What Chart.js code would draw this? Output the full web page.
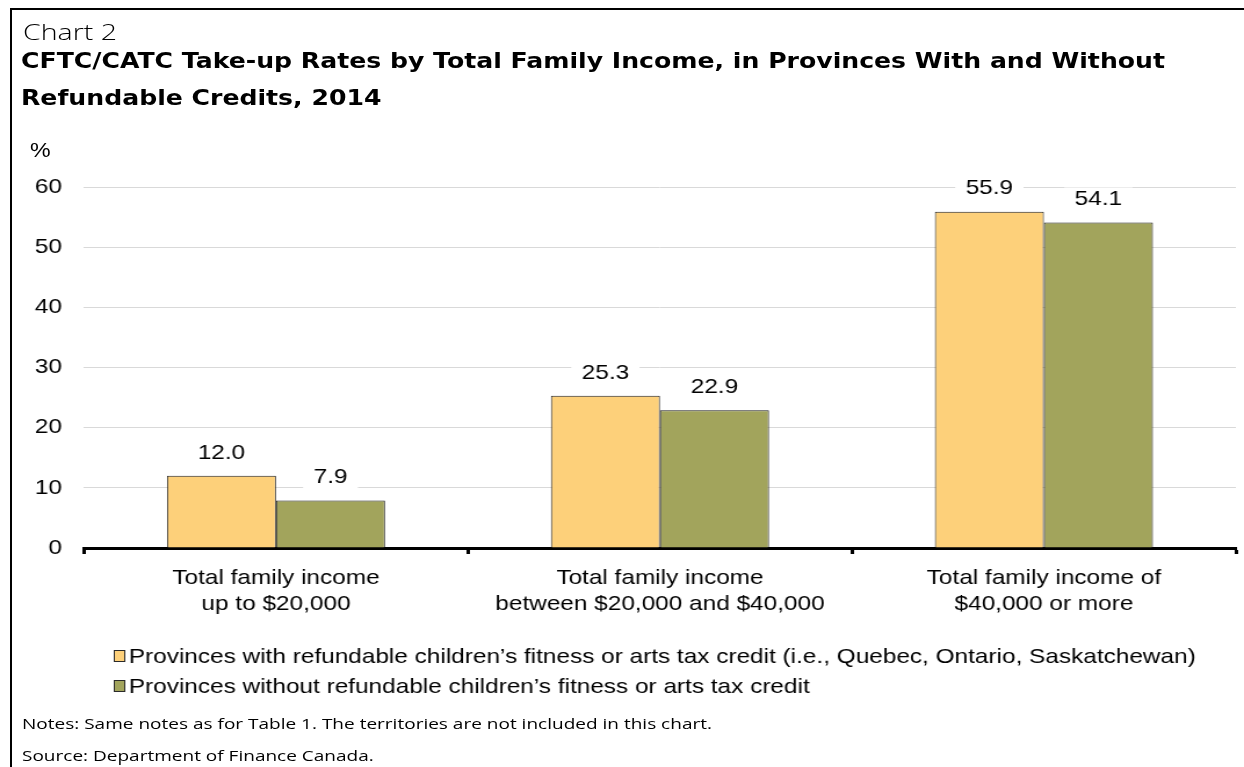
<!DOCTYPE html>
<html>
<head>
<meta charset="utf-8">
<script src="https://cdn.jsdelivr.net/npm/chart.js@4/dist/chart.umd.min.js"></script>
<style>
 body{margin:0;background:#fff;}
 #wrap{position:relative;width:1244px;height:767px;overflow:hidden;background:#fff;}
 #frame{position:absolute;left:10px;top:8px;width:1240px;height:770px;border-top:2px solid #000;border-left:2px solid #000;}
 #chart{position:absolute;left:0;top:0;}
 .t{position:absolute;white-space:nowrap;color:#000;transform-origin:0 0;}
 #num{left:23px;top:16px;font:300 22px "Open Sans",sans-serif;}
 #ttl{left:21px;top:42px;font:bold 22px/37px "DejaVu Sans",sans-serif;}
 #pct{left:30px;top:139px;font:20px "Liberation Sans",Arial,sans-serif;transform:scaleX(1.16);}
 .note{left:22px;font:15px "Open Sans",sans-serif;}
</style>
</head>
<body>
<div id="wrap">
 <div id="frame"></div>
 <canvas id="chart" width="1072" height="767" style="width:1244px;height:767px"></canvas>
 <div class="t" id="num" data-w="94">Chart 2</div>
 <div class="t" id="ttl" data-w="1144">CFTC/CATC Take-up Rates by Total Family Income, in Provinces With and Without<br>Refundable Credits, 2014</div>
 <div class="t" id="pct">%</div>
 <div class="t note" id="notes" data-w="690" style="top:713px">Notes: Same notes as for Table 1. The territories are not included in this chart.</div>
 <div class="t note" id="src" style="top:745px">Source: Department of Finance Canada.</div>
</div>
<script>
// income groups and take-up rates (%)
const categories = [
 ['Total family income','up to $20,000'],
 ['Total family income','between $20,000 and $40,000'],
 ['Total family income of','$40,000 or more']
];
const seriesNames = [
 'Provinces with refundable children\u2019s fitness or arts tax credit (i.e., Quebec, Ontario, Saskatchewan)',
 'Provinces without refundable children\u2019s fitness or arts tax credit'
];
const withRefundable = [12.0, 25.3, 55.9];
const withoutRefundable = [7.9, 22.9, 54.1];
const yTicks = [0, 10, 20, 30, 40, 50, 60];

const FONT = '"Liberation Sans", Arial, sans-serif';

// headings use wide type: squeeze/stretch each block to its set width
function fitText(){
 document.querySelectorAll('[data-w]').forEach(el=>{
  el.style.transform = 'none';
  const w = el.getBoundingClientRect().width;
  const k = (+el.dataset.w) / w;
  el.style.transform = 'scaleX(' + k + ')';
  if(el.id === 'notes') document.getElementById('src').style.transform = 'scaleX(' + k + ')';
 });
}
fitText();
if(document.fonts) document.fonts.ready.then(fitText);

// value labels sitting on a white patch above each bar
const valueLabels = {
 id:'valueLabels',
 afterDatasetsDraw(chart){
  const ctx = chart.ctx;
  ctx.save();
  ctx.font = '21px ' + FONT;
  ctx.textAlign = 'center'; ctx.textBaseline = 'middle';
  chart.data.datasets.forEach((ds,i)=>{
   chart.getDatasetMeta(i).data.forEach((bar,j)=>{
    const txt = ds.data[j].toFixed(1);
    const w = ctx.measureText(txt).width;
    const cy = bar.y - 23;
    ctx.fillStyle = '#fff';
    ctx.fillRect(bar.x - w/2 - 9, cy - 12, w + 18, 24);
    ctx.fillStyle = '#000';
    ctx.fillText(txt, bar.x, cy);
   });
  });
  ctx.restore();
 }
};

// stacked legend, one series per row
const rowLegend = {
 id:'rowLegend',
 afterDraw(chart){
  const ctx = chart.ctx;
  ctx.save();
  ctx.font = '21px ' + FONT;
  ctx.textBaseline = 'middle';
  chart.data.datasets.forEach((ds,i)=>{
   const y = 656 + i*30;
   ctx.fillStyle = ds.backgroundColor;
   ctx.fillRect(98, y-6, 10, 12);
   ctx.strokeStyle = '#2a2a2a'; ctx.lineWidth = 1;
   ctx.strokeRect(98.5, y-5.5, 9, 11);
   ctx.fillStyle = '#000';
   ctx.fillText(ds.label, 111, y+1);
  });
  ctx.restore();
 }
};

new Chart(document.getElementById('chart'), {
 type:'bar',
 data:{
  labels:categories,
  datasets:[
   {label:seriesNames[0], data:withRefundable, backgroundColor:'#FDD07A', borderColor:'#1e1e1e', borderWidth:1},
   {label:seriesNames[1], data:withoutRefundable, backgroundColor:'#A2A45C', borderColor:'#1e1e1e', borderWidth:1}
  ]
 },
 options:{
  responsive:false, animation:false, devicePixelRatio:1,
  layout:{padding:{left:0, right:7, top:187, bottom:119}},
  datasets:{bar:{categoryPercentage:0.568, barPercentage:1}},
  plugins:{legend:{display:false}, tooltip:{enabled:false}},
  scales:{
   x:{
    afterFit:s=>{ s.height = 100; },
    border:{display:true, color:'#000', width:3},
    grid:{offset:true, drawOnChartArea:false, drawTicks:true, tickLength:6, color:'#000', tickWidth:3},
    ticks:{color:'#000', font:{family:FONT, size:21, lineHeight:1.25}, padding:11, maxRotation:0, autoSkip:false}
   },
   y:{
    min:0, max:60,
    afterFit:s=>{ s.width = 72.4; },
    afterBuildTicks:s=>{ s.ticks = yTicks.map(v=>({value:v})); },
    border:{display:false},
    grid:{color:'#d9d9d9', lineWidth:1, drawTicks:false},
    ticks:{color:'#000', font:{family:FONT, size:21}, padding:19}
   }
  }
 },
 plugins:[valueLabels, rowLegend]
});
</script>
</body>
</html>
